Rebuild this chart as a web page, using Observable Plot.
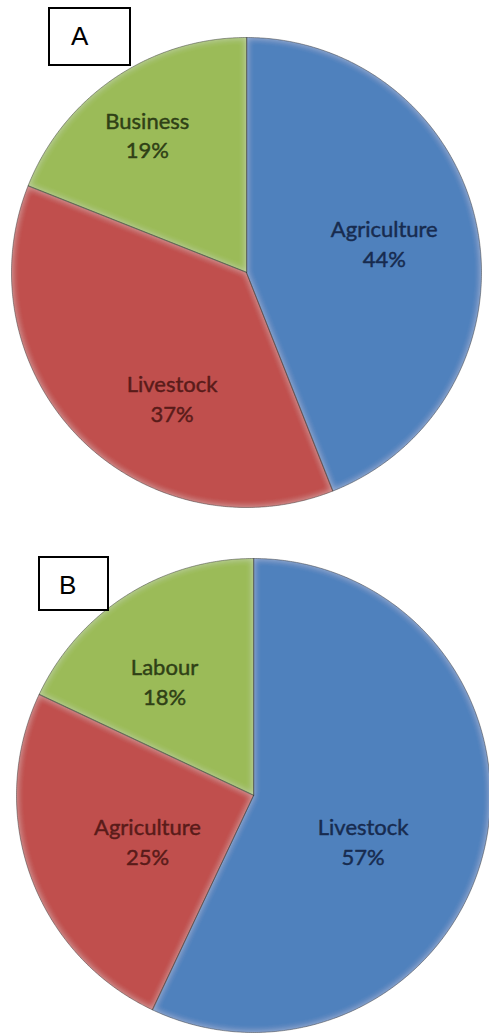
<!DOCTYPE html>
<html>
<head>
<meta charset="utf-8">
<script src="https://cdn.jsdelivr.net/npm/d3@7"></script>
<script src="https://cdn.jsdelivr.net/npm/@observablehq/plot@0.6"></script>
<style>
  html, body { margin: 0; padding: 0; background: #fff; }
  #page { position: relative; width: 489px; height: 1034px; overflow: hidden; }
  .panel { position: relative; width: 489px; height: 517px; }
  .panel svg { display: block; }
  .tag {
    position: absolute; box-sizing: border-box;
    border: 2px solid #000; background: #fff;
    font-family: "Liberation Sans", Arial, sans-serif; font-size: 26px; color: #000;
  }
</style>
</head>
<body>
<div id="page"></div>
<script>
// Income sources, share of households (%)
const chartALabels = ["Agriculture", "Livestock", "Business"];
const chartAValues = [44, 37, 19];
const chartBLabels = ["Livestock", "Agriculture", "Labour"];
const chartBValues = [57, 25, 18];
const panelTags = ["A", "B"];

// Slice colours follow slice order (first slice blue, then red, then green)
const sliceColors = ["#4f81bd", "#c0504d", "#9bbb59"];
const labelInk = ["#172b4f", "#591b19", "#2f4016"];

// Layout of each panel: pie centre/radius in pixels, label placement tweaks
const panels = [
  {
    tag: panelTags[0], labels: chartALabels, values: chartAValues,
    cx: 246, cy: 272, r: 235,
    labelTurn: [-1.5, -14.3, -1.4], labelReach: [0.60, 0.62, 0.725],
    box: {left: 48, top: 7, width: 83, height: 59, pad: 21, lift: 0}
  },
  {
    tag: panelTags[1], labels: chartBLabels, values: chartBValues,
    cx: 253, cy: 278, r: 237,
    labelTurn: [9.7, -3.2, -5.3], labelReach: [0.50, 0.486, 0.614],
    box: {left: 38, top: 39, width: 71, height: 55, pad: 19, lift: 2}
  }
];

const W = 489, H = 517;
const page = document.getElementById("page");

function drawPanel(p, idx) {
  const rows = p.labels.map((label, i) => ({label, value: p.values[i], slot: i}));
  const arcs = d3.pie().sort(null).value(d => d.value)(rows);

  // Closed outline of every slice: centre, then along its arc
  const outline = [];
  arcs.forEach(a => {
    const slot = a.data.slot;
    outline.push({slot, x: 0, y: 0});
    const steps = Math.max(2, Math.ceil((a.endAngle - a.startAngle) / (Math.PI / 360)));
    for (let k = 0; k <= steps; k++) {
      const t = a.startAngle + (a.endAngle - a.startAngle) * k / steps;
      outline.push({slot, x: Math.sin(t), y: Math.cos(t)});
    }
  });

  const labels = arcs.map((a, i) => {
    const mid = (a.startAngle + a.endAngle) / 2 + p.labelTurn[i] * Math.PI / 180;
    const reach = p.labelReach[i];
    return {
      slot: i,
      text: `${a.data.label}\n${a.data.value}%`,
      x: reach * Math.sin(mid),
      y: reach * Math.cos(mid)
    };
  });

  const svg = Plot.plot({
    width: W,
    height: H,
    margin: 0,
    style: {background: "transparent", overflow: "visible"},
    x: {domain: [-1, 1], range: [p.cx - p.r, p.cx + p.r], axis: null},
    y: {domain: [-1, 1], range: [p.cy + p.r, p.cy - p.r], axis: null},
    color: {type: "ordinal", domain: [0, 1, 2], range: sliceColors},
    marks: [
      Plot.line(outline, {x: "x", y: "y", z: "slot", fill: "slot", stroke: "none", curve: "linear-closed"}),
      Plot.line(outline, {x: "x", y: "y", z: "slot", fill: "none", stroke: "#2e2e2e", strokeOpacity: 0.45, strokeWidth: 1, curve: "linear-closed"}),
      Plot.text(labels, {
        x: "x", y: "y", text: "text",
        fill: {value: d => labelInk[d.slot], scale: null},
        stroke: {value: d => labelInk[d.slot], scale: null},
        strokeWidth: 0.45,
        fontSize: 22, fontFamily: "Lato, 'Open Sans', sans-serif",
        lineHeight: 1.36, textAnchor: "middle"
      })
    ]
  });

  // Soft bevel: light inner rim on each slice
  const fid = `bevel-${idx}`;
  const sel = d3.select(svg);
  const defs = sel.insert("defs", ":first-child");
  const f = defs.append("filter").attr("id", fid)
    .attr("x", "-5%").attr("y", "-5%").attr("width", "110%").attr("height", "110%");
  f.append("feGaussianBlur").attr("in", "SourceAlpha").attr("stdDeviation", 3.5).attr("result", "b");
  f.append("feComposite").attr("in", "SourceAlpha").attr("in2", "b").attr("operator", "out").attr("result", "edge");
  f.append("feFlood").attr("flood-color", "#ffffff").attr("flood-opacity", 0.35);
  f.append("feComposite").attr("in2", "edge").attr("operator", "in").attr("result", "glow");
  const m = f.append("feMerge");
  m.append("feMergeNode").attr("in", "SourceGraphic");
  m.append("feMergeNode").attr("in", "glow");
  sel.select("g[aria-label='line']").selectAll("path").attr("filter", `url(#${fid})`);

  const holder = document.createElement("div");
  holder.className = "panel";
  holder.appendChild(svg);

  const box = document.createElement("div");
  box.className = "tag";
  box.textContent = p.tag;
  Object.assign(box.style, {
    left: p.box.left + "px", top: p.box.top + "px",
    width: p.box.width + "px", height: p.box.height + "px",
    lineHeight: (p.box.height - 4 + p.box.lift * 2) + "px",
    paddingLeft: p.box.pad + "px"
  });
  holder.appendChild(box);
  page.appendChild(holder);
}

panels.forEach(drawPanel);
</script>
</body>
</html>
